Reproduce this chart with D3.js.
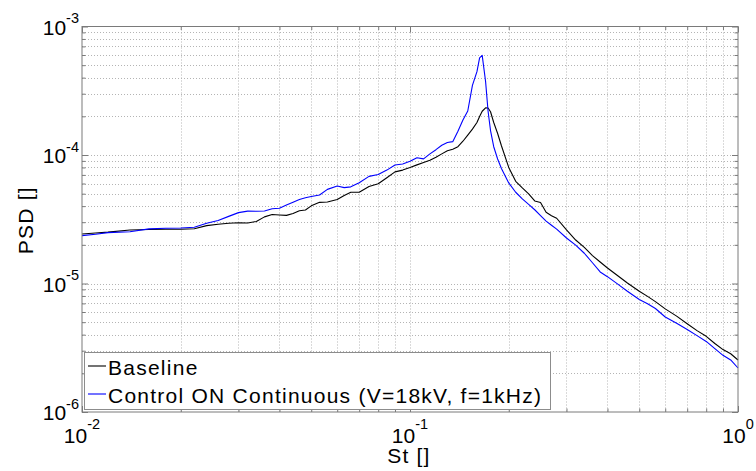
<!DOCTYPE html>
<html>
<head>
<meta charset="utf-8">
<script src="https://cdn.jsdelivr.net/npm/d3@7"></script>
<style>
  body { margin: 0; background: #fff; }
  text { font-family: "Liberation Sans", Arial, sans-serif; fill: #000; }
</style>
</head>
<body>
<div id="chart"></div>
<script>
// Strouhal number grid shared by both spectra
var st = [0.010, 0.011, 0.012, 0.014, 0.016, 0.018, 0.020, 0.022, 0.024, 0.026,
          0.028, 0.030, 0.032, 0.034, 0.036, 0.038, 0.040, 0.042, 0.044, 0.046,
          0.048, 0.050, 0.053, 0.056, 0.060, 0.063, 0.066, 0.070, 0.075, 0.080,
          0.085, 0.090, 0.095, 0.100, 0.105, 0.110, 0.115, 0.120, 0.125, 0.130,
          0.135, 0.140, 0.145, 0.150, 0.155, 0.160, 0.163, 0.166, 0.170, 0.173,
          0.176, 0.180, 0.185, 0.190, 0.200, 0.210, 0.220, 0.230, 0.240, 0.250,
          0.260, 0.270, 0.280, 0.300, 0.320, 0.340, 0.360, 0.380, 0.400, 0.430,
          0.460, 0.500, 0.530, 0.560, 0.600, 0.650, 0.700, 0.750, 0.800, 0.850,
          0.900, 0.950, 1.000];

var psdBaseline = [2.43e-5, 2.47e-5, 2.51e-5, 2.61e-5, 2.63e-5, 2.64e-5, 2.64e-5, 2.67e-5, 2.82e-5, 2.89e-5,
                   2.94e-5, 2.97e-5, 2.96e-5, 3.04e-5, 3.30e-5, 3.44e-5, 3.41e-5, 3.39e-5, 3.50e-5, 3.68e-5,
                   3.73e-5, 4.02e-5, 4.28e-5, 4.31e-5, 4.51e-5, 4.84e-5, 5.13e-5, 5.13e-5, 5.69e-5, 5.97e-5,
                   6.66e-5, 7.39e-5, 7.63e-5, 7.99e-5, 8.38e-5, 8.74e-5, 9.11e-5, 9.60e-5, 1.02e-4, 1.08e-4,
                   1.11e-4, 1.16e-4, 1.28e-4, 1.43e-4, 1.59e-4, 1.79e-4, 1.99e-4, 2.19e-4, 2.33e-4, 2.32e-4,
                   2.17e-4, 1.79e-4, 1.47e-4, 1.18e-4, 8.01e-5, 6.24e-5, 5.54e-5, 4.98e-5, 4.39e-5, 4.27e-5,
                   3.58e-5, 3.37e-5, 3.22e-5, 2.61e-5, 2.18e-5, 1.91e-5, 1.65e-5, 1.47e-5, 1.32e-5, 1.15e-5,
                   1.01e-5, 8.71e-6, 7.94e-6, 7.23e-6, 6.35e-6, 5.57e-6, 4.86e-6, 4.30e-6, 3.88e-6, 3.41e-6,
                   3.06e-6, 2.84e-6, 2.54e-6];

var psdControl = [2.36e-5, 2.42e-5, 2.49e-5, 2.53e-5, 2.66e-5, 2.69e-5, 2.70e-5, 2.74e-5, 2.94e-5, 3.09e-5,
                  3.33e-5, 3.56e-5, 3.66e-5, 3.65e-5, 3.67e-5, 3.82e-5, 3.85e-5, 4.08e-5, 4.29e-5, 4.51e-5,
                  4.65e-5, 4.75e-5, 4.88e-5, 5.40e-5, 5.74e-5, 5.57e-5, 5.65e-5, 6.08e-5, 6.82e-5, 7.05e-5,
                  7.63e-5, 8.36e-5, 8.51e-5, 8.93e-5, 9.53e-5, 9.33e-5, 1.02e-4, 1.10e-4, 1.19e-4, 1.25e-4,
                  1.27e-4, 1.53e-4, 1.87e-4, 2.20e-4, 3.48e-4, 4.45e-4, 5.69e-4, 5.96e-4, 3.73e-4, 2.19e-4,
                  1.55e-4, 1.16e-4, 9.31e-5, 7.85e-5, 6.06e-5, 5.13e-5, 4.55e-5, 4.13e-5, 3.75e-5, 3.38e-5,
                  3.06e-5, 2.84e-5, 2.65e-5, 2.26e-5, 1.99e-5, 1.72e-5, 1.45e-5, 1.23e-5, 1.13e-5, 9.88e-6,
                  8.71e-6, 7.51e-6, 6.95e-6, 6.39e-6, 5.49e-6, 4.90e-6, 4.39e-6, 3.93e-6, 3.54e-6, 3.11e-6,
                  2.76e-6, 2.54e-6, 2.20e-6];

var seriesNames = ["Baseline", "Control ON Continuous (V=18kV, f=1kHz)"];
var seriesColors = ["#000000", "#0000ff"];
var xExponents = [-2, -1, 0];
var yExponents = [-6, -5, -4, -3];
var xLabel = "St []";
var yLabel = "PSD []";

var w = 756, h = 471;
var margin = {top: 26.5, right: 18, bottom: 59, left: 82};

var svg = d3.select("#chart").append("svg")
    .attr("width", w)
    .attr("height", h);

var x = d3.scaleLog()
    .domain([Math.pow(10, xExponents[0]), Math.pow(10, xExponents[xExponents.length - 1])])
    .range([margin.left, w - margin.right]);
var y = d3.scaleLog()
    .domain([Math.pow(10, yExponents[0]), Math.pow(10, yExponents[yExponents.length - 1])])
    .range([h - margin.bottom, margin.top]);

// major + minor tick values per decade
function decadeTicks(exps){
    var major = [], minor = [];
    exps.forEach(function(e, i){
        major.push(Math.pow(10, e));
        if(i < exps.length - 1){
            for(var k = 2; k <= 9; k++) minor.push(k * Math.pow(10, e));
        }
    });
    return {major: major, minor: minor};
}
var xt = decadeTicks(xExponents);
var yt = decadeTicks(yExponents);

var x0 = x.range()[0], x1 = x.range()[1];
var y0 = y.range()[0], y1 = y.range()[1];

//dotted grid, major and minor
var grid = svg.append("g").attr("class", "grid")
    .attr("stroke", "#b4b4b4")
    .attr("stroke-width", 1)
    .attr("stroke-dasharray", "1,2");
grid.selectAll("line.gx")
    .data(xt.major.concat(xt.minor).filter(function(v){ return x(v) > x0 + 1 && x(v) < x1 - 1; }))
    .enter().append("line")
    .attr("x1", function(d){ return Math.round(x(d)) + 0.5; })
    .attr("x2", function(d){ return Math.round(x(d)) + 0.5; })
    .attr("y1", y1).attr("y2", y0);
grid.selectAll("line.gy")
    .data(yt.major.concat(yt.minor).filter(function(v){ return y(v) < y0 - 1 && y(v) > y1 + 1; }))
    .enter().append("line")
    .attr("y1", function(d){ return Math.round(y(d)) + 0.5; })
    .attr("y2", function(d){ return Math.round(y(d)) + 0.5; })
    .attr("x1", x0).attr("x2", x1);

// curves
var line = d3.line()
    .x(function(d){ return x(d[0]); })
    .y(function(d){ return y(d[1]); });

var series = [psdBaseline, psdControl];
series.forEach(function(vals, i){
    svg.append("path")
        .datum(st.map(function(s, j){ return [s, vals[j]]; }))
        .attr("fill", "none")
        .attr("stroke", seriesColors[i])
        .attr("stroke-width", 1.1)
        .attr("stroke-linejoin", "round")
        .attr("d", line);
});

// box + inward ticks on all four sides
var axisColor = "#7a7a7a";
function styleAxis(g){
    g.select(".domain").remove();
    g.selectAll("line").attr("stroke", axisColor);
}
svg.append("g").attr("transform", "translate(0," + y0 + ")")
    .call(d3.axisBottom(x).tickValues(xt.major).tickSize(-6).tickFormat("")).call(styleAxis);
svg.append("g").attr("transform", "translate(0," + y0 + ")")
    .call(d3.axisBottom(x).tickValues(xt.minor).tickSize(-3.5).tickFormat("")).call(styleAxis);
svg.append("g").attr("transform", "translate(0," + y1 + ")")
    .call(d3.axisTop(x).tickValues(xt.major).tickSize(-6).tickFormat("")).call(styleAxis);
svg.append("g").attr("transform", "translate(0," + y1 + ")")
    .call(d3.axisTop(x).tickValues(xt.minor).tickSize(-3.5).tickFormat("")).call(styleAxis);
svg.append("g").attr("transform", "translate(" + x0 + ",0)")
    .call(d3.axisLeft(y).tickValues(yt.major).tickSize(-6).tickFormat("")).call(styleAxis);
svg.append("g").attr("transform", "translate(" + x0 + ",0)")
    .call(d3.axisLeft(y).tickValues(yt.minor).tickSize(-3.5).tickFormat("")).call(styleAxis);
svg.append("g").attr("transform", "translate(" + x1 + ",0)")
    .call(d3.axisRight(y).tickValues(yt.major).tickSize(-6).tickFormat("")).call(styleAxis);
svg.append("g").attr("transform", "translate(" + x1 + ",0)")
    .call(d3.axisRight(y).tickValues(yt.minor).tickSize(-3.5).tickFormat("")).call(styleAxis);

svg.append("rect")
    .attr("x", x0).attr("y", y1)
    .attr("width", x1 - x0).attr("height", y0 - y1)
    .attr("fill", "none")
    .attr("stroke", axisColor)
    .attr("stroke-width", 1);

// tick labels 10^n
xExponents.forEach(function(e){
    var t = svg.append("text")
        .attr("x", x(Math.pow(10, e)))
        .attr("y", y0 + 31)
        .attr("text-anchor", "middle")
        .attr("font-size", 21);
    t.append("tspan").text("10");
    t.append("tspan").attr("dy", -14).attr("font-size", 14.5).text(e);
});
yExponents.forEach(function(e){
    var t = svg.append("text")
        .attr("x", x0 - 3)
        .attr("y", y(Math.pow(10, e)) + 8.3)
        .attr("text-anchor", "end")
        .attr("font-size", 21);
    t.append("tspan").text("10");
    t.append("tspan").attr("dy", -11.5).attr("font-size", 14.5).text(e);
});

// axis titles
svg.append("text")
    .attr("x", (x0 + x1) / 2 - 1)
    .attr("y", 463)
    .attr("text-anchor", "middle")
    .attr("font-size", 21)
    .attr("letter-spacing", 1.2)
    .text(xLabel);
svg.append("text")
    .attr("transform", "translate(33," + ((y0 + y1) / 2 + 1) + ") rotate(-90)")
    .attr("text-anchor", "middle")
    .attr("font-size", 21)
    .attr("letter-spacing", 1.2)
    .text(yLabel);

// legend
var legend = svg.append("g").attr("class", "legend");
legend.append("rect")
    .attr("x", 84.5).attr("y", 352.5)
    .attr("width", 466).attr("height", 57)
    .attr("fill", "#fff")
    .attr("stroke", "#8c8c8c")
    .attr("stroke-width", 1);
seriesNames.forEach(function(name, i){
    var ly = 366 + i * 28;
    legend.append("line")
        .attr("x1", 88).attr("x2", 106)
        .attr("y1", ly).attr("y2", ly)
        .attr("stroke", seriesColors[i])
        .attr("stroke-width", 1.1);
    legend.append("text")
        .attr("x", 108)
        .attr("y", ly + 9)
        .attr("font-size", 21)
        .attr("letter-spacing", 1.25)
        .text(name);
});
</script>
</body>
</html>
